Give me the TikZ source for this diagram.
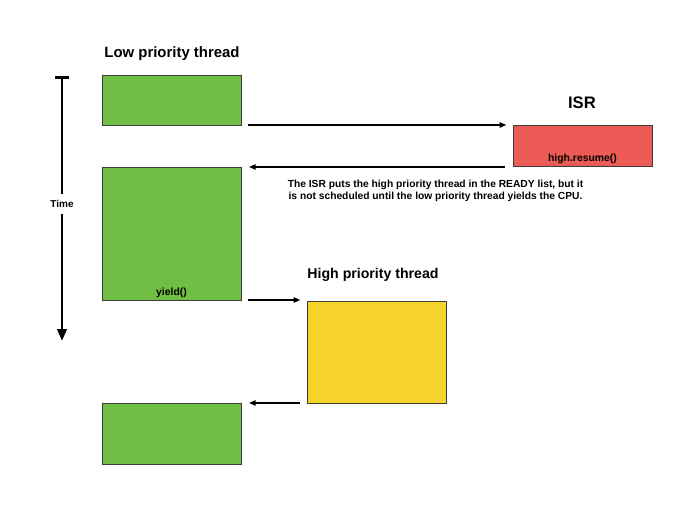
\documentclass[tikz,border=0pt]{standalone}
\usepackage{fontspec}
\setmainfont{Liberation Sans}
\usetikzlibrary{arrows.meta,positioning,calc}

\definecolor{lowgreen}{RGB}{112,191,68}
\definecolor{isrred}{RGB}{236,91,86}
\definecolor{highyellow}{RGB}{246,211,43}
\definecolor{boxline}{RGB}{60,60,60}

\begin{document}
\begin{tikzpicture}[x=0.75pt,y=-0.75pt,
    box/.style={draw=boxline,line width=0.6pt,minimum width=104.25pt,inner sep=0pt,outer sep=0pt},
    title/.style={font=\bfseries\fontsize{11.2}{13}\selectfont},
    call/.style={font=\bfseries\fontsize{7.8}{9}\selectfont},
    arrow/.style={-{Triangle[length=5pt,width=4pt]},line width=1.1pt}]
    \useasboundingbox (0,0) rectangle (700,525);
    % thread boxes
    \node[box,fill=lowgreen,minimum height=37.5pt] (low1) at (171.5,100) {};
    \node[box,fill=isrred,minimum height=30.75pt] (isr) at (582.5,145.5) {};
    \node[box,fill=lowgreen,minimum height=99.75pt] (low2) at (171.5,233.5) {};
    \node[box,fill=highyellow,minimum height=76.5pt] (high) at (376.5,352) {};
    \node[box,fill=lowgreen,minimum height=45.75pt] (low3) at (171.5,433.5) {};
    % titles
    \node[title] (lowtitle) at (172,54) {Low priority thread};
    \node[title,font=\bfseries\fontsize{12.5}{14}\selectfont] (isrtitle) at (582,103) {ISR};
    \node[title,font=\bfseries\fontsize{10.6}{12}\selectfont] (hightitle) at (373,275) {High priority thread};
    \node[call,anchor=south,inner ysep=1pt] (resume) at ($(isr.south)+(0,-1)$) {high.resume()};
    \node[call,anchor=south,inner ysep=1pt] (yield) at ($(low2.south)+(0,-0.5)$) {yield()};
    \node[call,font=\bfseries\fontsize{7.7}{9}\selectfont,align=center] (note) at (435.5,191)
        {The ISR puts the high priority thread in the READY list, but it\\
         is not scheduled until the low priority thread yields the CPU.};
    % transitions
    \draw[arrow] ([xshift=5pt]low1.south east) -- ([xshift=-5pt]low1.south east -| isr.west);
    \draw[arrow] ([xshift=-6pt]low2.north east -| isr.west) -- ([xshift=6pt]low2.north east);
    \draw[arrow] ([xshift=5pt]low2.south east) -- ([xshift=-5pt]low2.south east -| high.west);
    \draw[arrow] ([xshift=-5pt]high.south west) -- ([xshift=6pt]high.south west -| low3.east);
    % time axis
    \coordinate (ttop) at (62,76);
    \coordinate (tbot) at (62,341);
    \draw[{Bar[width=10.5pt]}-{Triangle[length=9pt,width=7pt]},line width=2.2pt] (ttop) -- (tbot);
    \node[fill=white,font=\bfseries\fontsize{7.5}{9}\selectfont,inner ysep=5pt] (time) at (62,204) {Time};
\end{tikzpicture}
\end{document}
